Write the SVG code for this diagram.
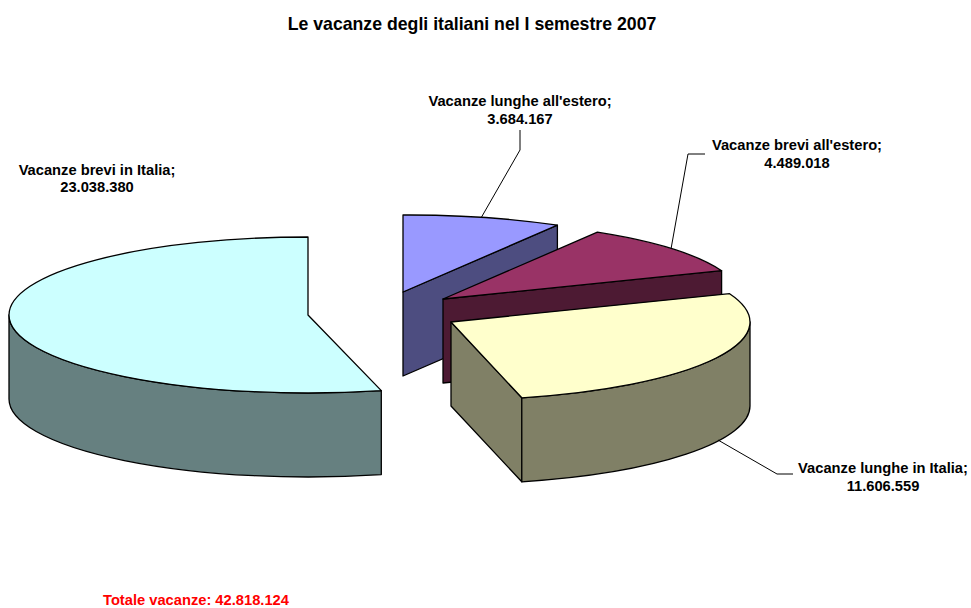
<svg xmlns="http://www.w3.org/2000/svg" width="971" height="608" viewBox="0 0 971 608">
<style>
.s{stroke:#000;stroke-width:1.3;stroke-linejoin:round}
.t{font-family:"Liberation Sans",Arial,sans-serif;font-weight:bold;font-size:14.7px;fill:#000;text-anchor:middle}
.ld{fill:none;stroke:#000;stroke-width:1}
</style>
<rect width="971" height="608" fill="#fff"/>
<text x="472" y="30" class="t" style="font-size:17.7px">Le vacanze degli italiani nel I semestre 2007</text>
<g id="brevi-italia">
<path class="s" fill="#668080" d="M9,315 A299,78 0 0 0 381.3,390.6 L381.3,474.6 A299,78 0 0 1 9,399 Z"/>
<path class="s" fill="#CCFFFF" d="M308,315 L308,237 A299,78 0 0 0 9,315 A299,78 0 0 0 381.3,390.6 Z"/>
<text class="t" x="97" y="175">Vacanze brevi in Italia;</text>
<text class="t" x="97" y="192">23.038.380</text>
</g>
<g id="lunghe-estero">
<path class="s" fill="#4D4D80" d="M403,292 L557.4,225.2 L557.4,309.2 L403,376 Z"/>
<path class="s" fill="#9999FF" d="M403,292 L403,215 A299,78 0 0 1 557.4,225.2 Z"/>
<text class="t" x="520" y="106">Vacanze lunghe all'estero;</text>
<text class="t" x="520" y="124">3.684.167</text>
</g>
<g id="brevi-estero">
<path class="s" fill="#4D1A33" d="M443,299 L721.6,270.7 L721.6,354.7 L443,383 Z"/>
<path class="s" fill="#993366" d="M443,299 L597.4,232.2 A299,78 0 0 1 721.6,270.7 Z"/>
<text class="t" x="797" y="150">Vacanze brevi all'estero;</text>
<text class="t" x="797" y="168">4.489.018</text>
</g>
<g id="lunghe-italia">
<path class="s" fill="#808066" d="M451,322 L521.8,397.8 L521.8,481.8 L451,406 Z"/>
<path class="s" fill="#808066" d="M750,322 A299,78 0 0 1 521.8,397.8 L521.8,481.8 A299,78 0 0 0 750,406 Z"/>
<path class="s" fill="#FFFFCC" d="M451,322 L729.6,293.7 A299,78 0 0 1 521.8,397.8 Z"/>
<text class="t" x="883" y="473">Vacanze lunghe in Italia;</text>
<text class="t" x="883" y="491">11.606.559</text>
</g>
<g id="connectors">
<polyline class="ld" points="520,130 520,150 481,218"/>
<polyline class="ld" points="705,154 688,154 671,249"/>
<polyline class="ld" points="718,440 777,474 793,474"/>
</g>
<text x="103" y="605" class="t" style="text-anchor:start;fill:#FF0000">Totale vacanze: 42.818.124</text>
</svg>
